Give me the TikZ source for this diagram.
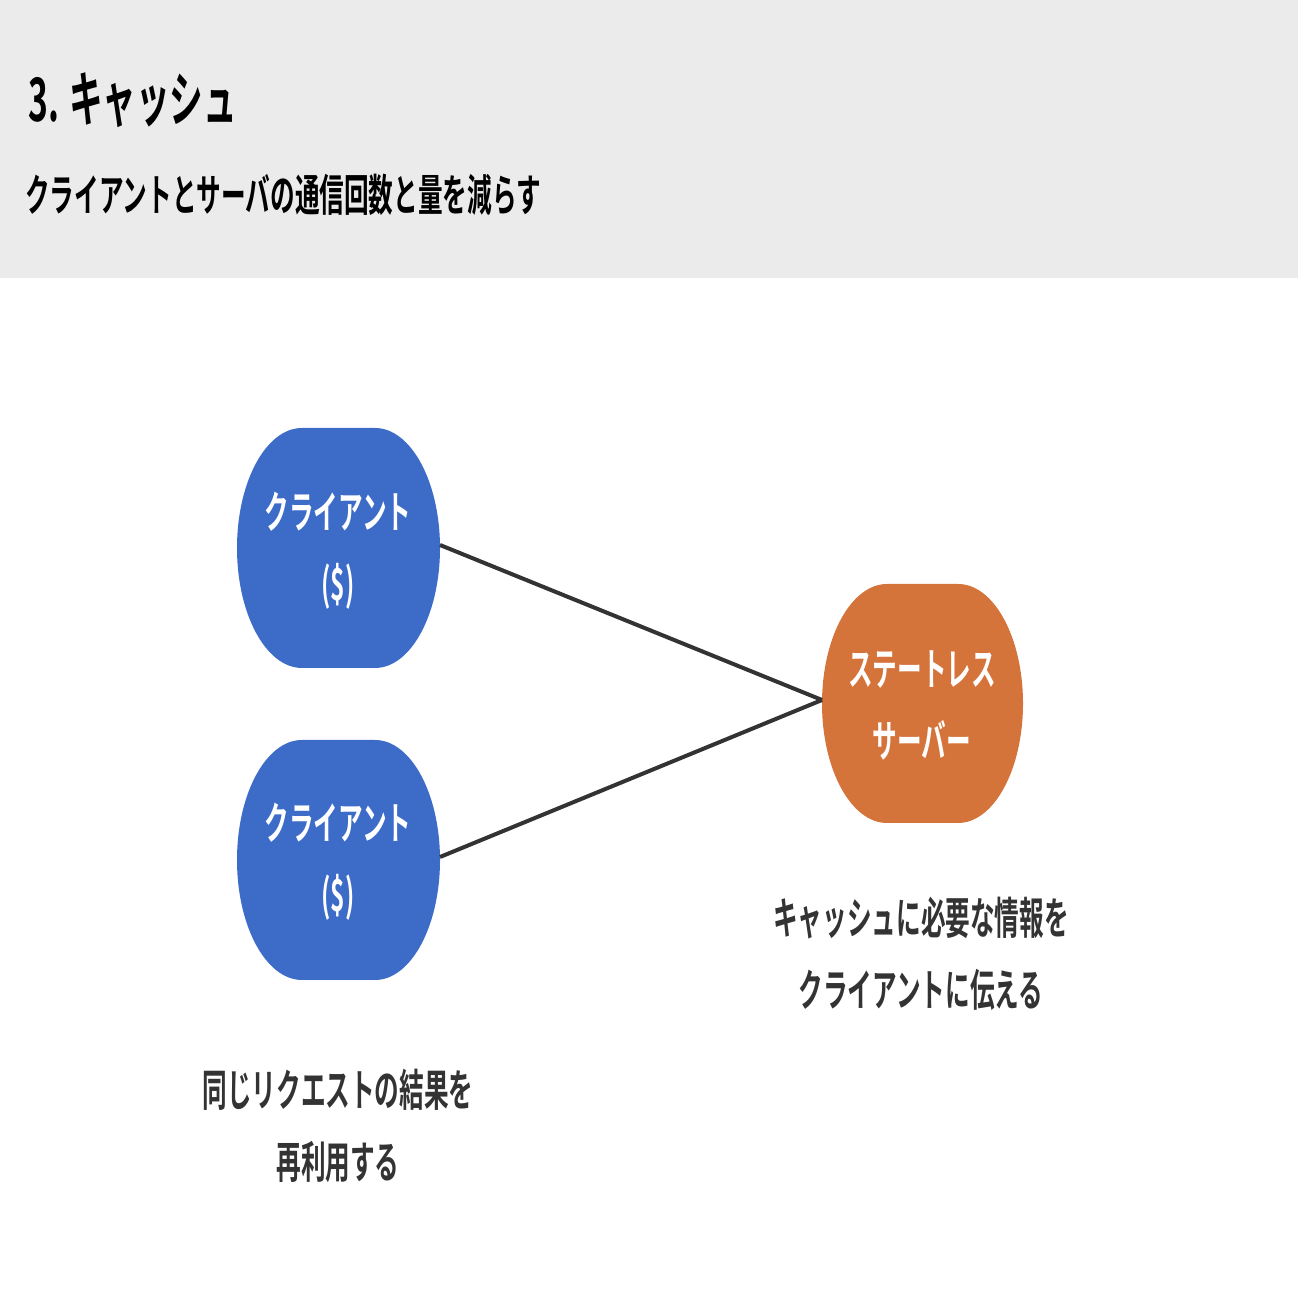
\documentclass[tikz,border=0pt]{standalone}
\usepackage{fontspec}
\newfontfamily\jp[FakeStretch=0.56]{Noto Sans CJK JP Bold}
\definecolor{hdr}{HTML}{EBEBEB}
\definecolor{cblue}{HTML}{3D6CC8}
\definecolor{corange}{HTML}{D4733A}
\definecolor{ink}{HTML}{333333}
\tikzset{
 jptxt/.style={font=\jp\fontsize{44}{72}\selectfont, align=center, inner sep=0},
 intxt/.style={jptxt, text=white},
 lbl/.style={jptxt, text=ink},
 conn/.style={draw=ink, line width=4pt},
}
\newcommand\blob[6]{% x0 ytop x1 ybot rx color
 \fill[#6] ({#1+#5},{1298-#2}) -- ({#3-#5},{1298-#2})
   arc[start angle=90,end angle=-90,x radius=#5,y radius={(#4-#2)/2}]
   -- ({#1+#5},{1298-#4})
   arc[start angle=270,end angle=90,x radius=#5,y radius={(#4-#2)/2}] -- cycle;}
\begin{document}
\begin{tikzpicture}[x=1pt,y=1pt]
\useasboundingbox (0,0) rectangle (1298,1298);
\fill[hdr] (0,1298) rectangle (1298,1020);
\node[anchor=west, font=\jp\fontsize{60}{70}\selectfont, text=black, inner sep=0] (title) at (28,1198) {3. キャッシュ};
\node[anchor=west, jptxt, text=black] (sub) at (25,1103) {クライアントとサーバの通信回数と量を減らす};
\blob{237}{428}{440}{668}{65}{cblue}
\blob{237}{740}{440}{980}{65}{cblue}
\blob{822}{584}{1023}{823}{65}{corange}
\coordinate (c1) at (440,{1298-545});
\coordinate (c2) at (440,{1298-857});
\coordinate (s) at (822,{1298-700});
\draw[conn] (c1) -- (s);
\draw[conn] (c2) -- (s);
\node[intxt] (c1t) at (338,{1298-551}) {クライアント\\(\$)};
\node[intxt] (c2t) at (338,{1298-862}) {クライアント\\(\$)};
\node[intxt] (st) at (922,{1298-705}) {ステートレス\\サーバー};
\node[lbl] (sl) at (921,{1298-954}) {キャッシュに必要な情報を\\クライアントに伝える};
\node[lbl] (cl) at (338,{1298-1126}) {同じリクエストの結果を\\再利用する};
\end{tikzpicture}
\end{document}
